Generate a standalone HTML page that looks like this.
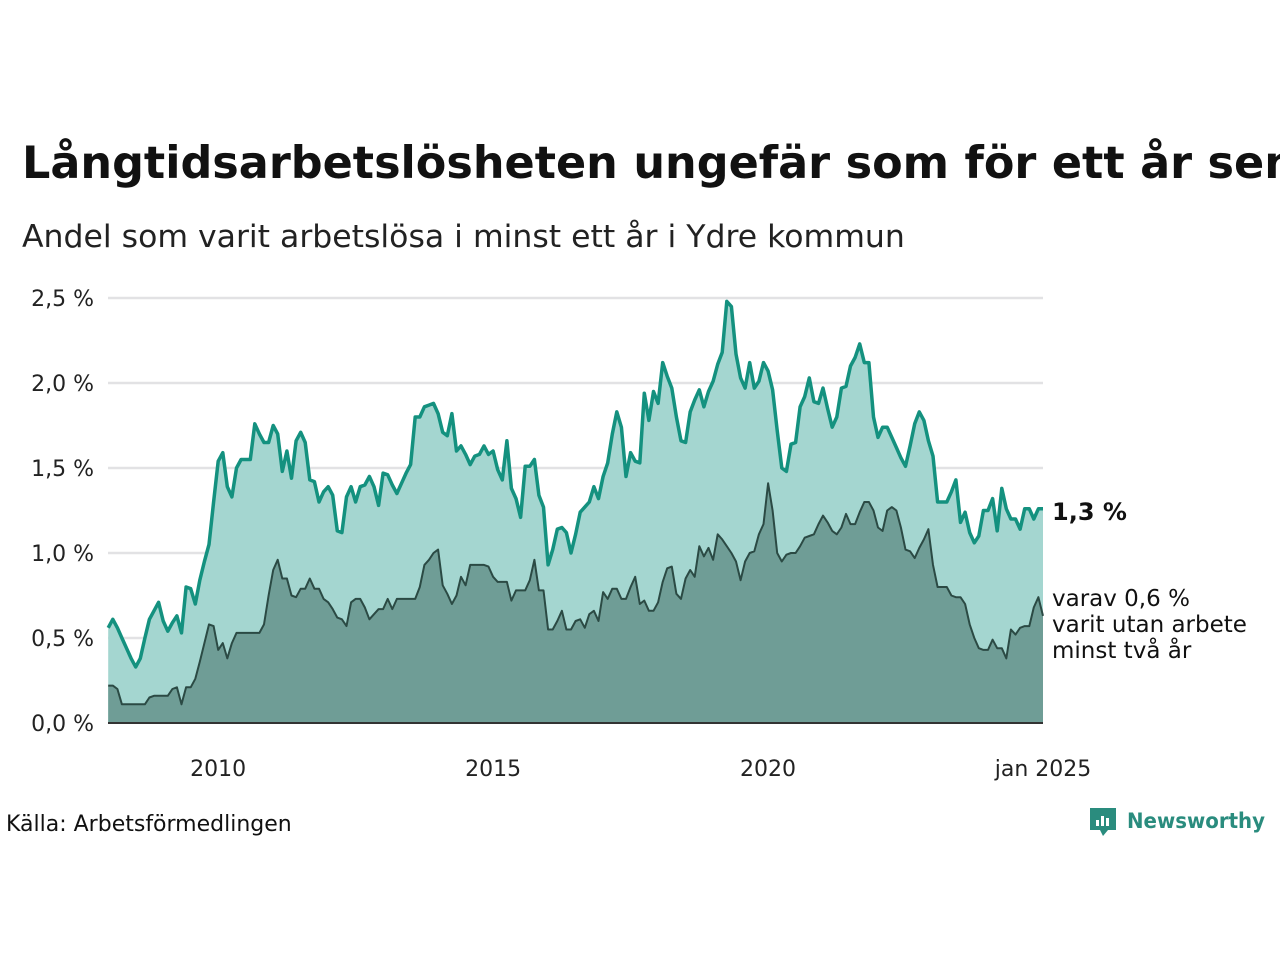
<!DOCTYPE html>
<html><head><meta charset="utf-8"><style>
body{margin:0;width:1280px;height:960px;background:#fff;overflow:hidden;font-family:"DejaVu Sans","Liberation Sans",sans-serif;color:#111}
svg text{font-family:"DejaVu Sans","Liberation Sans",sans-serif}
</style></head><body>
<svg id="c" width="1280" height="960">
<text x="22" y="178" font-size="44.5" font-weight="bold" fill="#111">Långtidsarbetslösheten ungefär som för ett år sen</text>
<text x="22" y="247" font-size="31.5" fill="#222">Andel som varit arbetslösa i minst ett år i Ydre kommun</text>
<g id="grid"></g><g id="areas"></g><g id="ylab"></g><g id="xlab"></g>
<text x="1052" y="520" font-size="24" font-weight="bold" fill="#111">1,3 %</text>
<text font-size="23" fill="#111"><tspan x="1052" y="606">varav 0,6 %</tspan><tspan x="1052" y="632">varit utan arbete</tspan><tspan x="1052" y="658">minst två år</tspan></text>
<text x="6" y="831" font-size="22" fill="#111">Källa: Arbetsförmedlingen</text>
<g>
<path d="M1090 808h26v22h-8l-5 6-3-6h-10z" fill="#2a8c7e"/>
<rect x="1096" y="820" width="3" height="6" fill="#fff"/><rect x="1101" y="816" width="3" height="10" fill="#fff"/><rect x="1106" y="818" width="3" height="8" fill="#fff"/>
<text x="1127" y="828" font-size="21" font-weight="bold" fill="#2a8c7e" textLength="138" lengthAdjust="spacingAndGlyphs">Newsworthy</text>
</g>
</svg>
<script>
const yTicks=[0,0.5,1,1.5,2,2.5];
const yTickLabels=["0,0 %","0,5 %","1,0 %","1,5 %","2,0 %","2,5 %"];
const xTickYears=[2010,2015,2020,2025];
const xTickLabels=["2010","2015","2020","jan 2025"];
const total=[0.56,0.61,0.56,0.50,0.44,0.38,0.33,0.38,0.50,0.61,0.66,0.71,
0.60,0.54,0.59,0.63,0.53,0.80,0.79,0.70,0.84,0.95,1.05,1.30,
1.54,1.59,1.39,1.33,1.50,1.55,1.55,1.55,1.76,1.70,1.65,1.65,
1.75,1.70,1.48,1.60,1.44,1.66,1.71,1.65,1.43,1.42,1.30,1.36,
1.39,1.34,1.13,1.12,1.33,1.39,1.30,1.39,1.40,1.45,1.39,1.28,
1.47,1.46,1.40,1.35,1.41,1.47,1.52,1.80,1.80,1.86,1.87,1.88,
1.82,1.71,1.69,1.82,1.60,1.63,1.58,1.52,1.57,1.58,1.63,1.58,
1.60,1.49,1.43,1.66,1.38,1.32,1.21,1.51,1.51,1.55,1.34,1.27,
0.93,1.02,1.14,1.15,1.12,1.00,1.11,1.24,1.27,1.30,1.39,1.32,
1.45,1.53,1.70,1.83,1.74,1.45,1.59,1.54,1.53,1.94,1.78,1.95,
1.88,2.12,2.04,1.97,1.80,1.66,1.65,1.83,1.90,1.96,1.86,1.95,
2.01,2.11,2.18,2.48,2.45,2.17,2.03,1.97,2.12,1.97,2.01,2.12,
2.07,1.96,1.72,1.50,1.48,1.64,1.65,1.86,1.92,2.03,1.89,1.88,
1.97,1.85,1.74,1.80,1.97,1.98,2.10,2.15,2.23,2.12,2.12,1.80,
1.68,1.74,1.74,1.68,1.62,1.56,1.51,1.63,1.76,1.83,1.78,1.66,
1.57,1.30,1.30,1.30,1.36,1.43,1.18,1.24,1.12,1.06,1.10,1.25,
1.25,1.32,1.13,1.38,1.26,1.20,1.20,1.14,1.26,1.26,1.20,1.26,
1.26];
const longTerm=[0.22,0.22,0.20,0.11,0.11,0.11,0.11,0.11,0.11,0.15,0.16,0.16,
0.16,0.16,0.20,0.21,0.11,0.21,0.21,0.26,0.36,0.47,0.58,0.57,
0.43,0.47,0.38,0.47,0.53,0.53,0.53,0.53,0.53,0.53,0.58,0.75,
0.90,0.96,0.85,0.85,0.75,0.74,0.79,0.79,0.85,0.79,0.79,0.73,
0.71,0.67,0.62,0.61,0.57,0.71,0.73,0.73,0.68,0.61,0.64,0.67,
0.67,0.73,0.67,0.73,0.73,0.73,0.73,0.73,0.80,0.93,0.96,1.00,
1.02,0.81,0.76,0.70,0.75,0.86,0.81,0.93,0.93,0.93,0.93,0.92,
0.86,0.83,0.83,0.83,0.72,0.78,0.78,0.78,0.84,0.96,0.78,0.78,
0.55,0.55,0.60,0.66,0.55,0.55,0.60,0.61,0.56,0.64,0.66,0.60,
0.77,0.73,0.79,0.79,0.73,0.73,0.80,0.86,0.70,0.72,0.66,0.66,
0.71,0.83,0.91,0.92,0.76,0.73,0.85,0.90,0.86,1.04,0.98,1.03,
0.96,1.11,1.08,1.04,1.00,0.95,0.84,0.95,1.00,1.01,1.11,1.17,
1.41,1.25,1.00,0.95,0.99,1.00,1.00,1.04,1.09,1.10,1.11,1.17,
1.22,1.18,1.13,1.11,1.15,1.23,1.17,1.17,1.24,1.30,1.30,1.25,
1.15,1.13,1.25,1.27,1.25,1.15,1.02,1.01,0.97,1.03,1.08,1.14,
0.93,0.80,0.80,0.80,0.75,0.74,0.74,0.70,0.58,0.50,0.44,0.43,
0.43,0.49,0.44,0.44,0.38,0.55,0.52,0.56,0.57,0.57,0.68,0.74,
0.63];
const startYear=2008;
const X0=108.2,X1=1043,Y0=723,Y1=298;
const nMonths=(2025-startYear)*12;
const xm=m=>X0+(X1-X0)*m/nMonths;
const xy=yr=>xm((yr-startYear)*12);
const y=v=>Y0-(Y0-Y1)*v/2.5;
const NS="http://www.w3.org/2000/svg";
function mk(tag,attrs,parent){const e=document.createElementNS(NS,tag);for(const k in attrs)e.setAttribute(k,attrs[k]);parent.appendChild(e);return e;}
const grid=document.getElementById('grid'),ylab=document.getElementById('ylab'),xlab=document.getElementById('xlab'),areas=document.getElementById('areas');
yTicks.forEach((t,i)=>{
  if(t>0){const l=mk('line',{x1:108,x2:1043,y1:y(t),y2:y(t),stroke:'#e2e2e4','stroke-width':2.5},grid);
  
  }
  const tx=mk('text',{x:94,y:y(t)+8,'text-anchor':'end','font-size':22,fill:'#222'},ylab);
  tx.textContent=yTickLabels[i];
  
  
});
xTickYears.forEach((yr,i)=>{
  const tx=mk('text',{x:xy(yr),y:776,'text-anchor':'middle','font-size':22,fill:'#222'},xlab);
  tx.textContent=xTickLabels[i];
  
  
});
function draw(arr,fill,stroke,sw,name){
  const pts=arr.map((v,i)=>xm(i).toFixed(1)+','+y(v).toFixed(1));
  const a=mk('path',{d:'M'+xm(0)+','+Y0+'L'+pts.join('L')+'L'+xm(arr.length-1)+','+Y0+'Z',fill:fill},areas);
  
  
  const l=mk('path',{d:'M'+pts.join('L'),fill:'none',stroke:stroke,'stroke-width':sw,'stroke-linejoin':'round'},areas);
  
  
}
draw(total,'#a4d6d0','#14917f',3.5,'total');
draw(longTerm,'#6f9d96','#2b4a44',2,'long-term');
const base=mk('line',{x1:108,x2:1043,y1:Y0,y2:Y0,stroke:'#333','stroke-width':2},areas);


</script>
</body></html>
